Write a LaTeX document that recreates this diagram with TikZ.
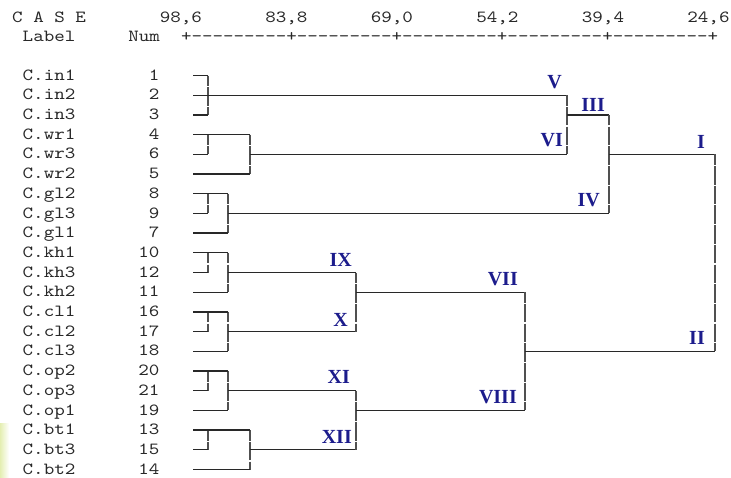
\documentclass[tikz,border=0pt]{standalone}
\usepackage{fontspec}
\newfontfamily\monof[FakeStretch=1.18,Ligatures=TeXOff]{lmmono10-regular.otf}
\newfontfamily\labf{Liberation Serif}
\definecolor{navy}{RGB}{28,28,140}
\definecolor{txt}{RGB}{40,40,40}
\definecolor{hline}{RGB}{40,40,40}
\definecolor{vline}{RGB}{80,80,80}
\definecolor{bar}{RGB}{228,238,178}
\tikzset{
  mono/.style={font=\monof\fontsize{17}{19}\selectfont, text=txt, inner sep=0pt},
  clab/.style={font=\labf\bfseries\fontsize{20}{22}\selectfont, text=navy, inner sep=0pt, anchor=east},
  hl/.style={draw=hline, line width=1.35pt},
  vl/.style={draw=vline, line width=1.35pt, dash pattern=on 18.5pt off 1.2pt, dash phase=8pt},
}
\begin{document}
\begin{tikzpicture}[x=1pt,y=-1pt]
\useasboundingbox (0,0) rectangle (731,477);
\shade[left color=bar, right color=white] (0,423) rectangle (9,477);
% header
\node[mono, anchor=base west] (hcase) at (12,22) {C A S E};
\node[mono, anchor=base west] (t1) at (159.7,22) {98,6};
\node[mono, anchor=base west] (t2) at (265.2,22) {83,8};
\node[mono, anchor=base west] (t3) at (370.7,22) {69,0};
\node[mono, anchor=base west] (t4) at (476.2,22) {54,2};
\node[mono, anchor=base west] (t5) at (581.7,22) {39,4};
\node[mono, anchor=base west] (t6) at (687.2,22) {24,6};
\node[mono, anchor=base west] (hlabel) at (22.55,41) {Label};
\node[mono, anchor=base west] (hnum) at (128.05,41) {Num};
\node[mono, anchor=base west] (axis) at (180.8,41) {+---------+---------+---------+---------+---------+};
% rows
\foreach \lab/\num [count=\i] in {C.in1/1,C.in2/2,C.in3/3,C.wr1/4,C.wr3/6,C.wr2/5,C.gl2/8,C.gl3/9,C.gl1/7,C.kh1/10,C.kh3/12,C.kh2/11,C.cl1/16,C.cl2/17,C.cl3/18,C.op2/20,C.op3/21,C.op1/19,C.bt1/13,C.bt3/15,C.bt2/14}{
  \coordinate (r\i) at (0,{75.5+19.7*(\i-1)});
  \node[mono, anchor=base west] (lab\i) at (22.5,{75.5+19.7*(\i-1)+4.6}) {\lab};
  \node[mono, anchor=base east] (num\i) at (159.7,{75.5+19.7*(\i-1)+4.6}) {\num};
}
% x levels
\coordinate (xL) at (193,0);
\coordinate (xA) at (208,0);
\coordinate (xB) at (228,0);
\coordinate (xC) at (250,0);
\coordinate (xD) at (356,0);
\coordinate (xE) at (525,0);
\coordinate (xF) at (567,0);
\coordinate (xG) at (609,0);
\coordinate (xH) at (715,0);
% in
\draw[vl] (xA|-r1) -- (xA|-r3);
\draw[hl] (xL|-r1) -- (xA|-r1);
\draw[hl] (xL|-r3) -- (xA|-r3);
\draw[hl] (xL|-r2) -- (xF|-r2);
% wr
\draw[vl] (xA|-r4) -- (xA|-r5);
\draw[vl] (xC|-r4) -- (xC|-r6);
\draw[hl] (xL|-r4) -- (xC|-r4);
\draw[hl] (xL|-r5) -- (xA|-r5);
\draw[hl] (xL|-r6) -- (xC|-r6);
\draw[hl] (xC|-r5) -- (xF|-r5);
% gl
\draw[vl] (xA|-r7) -- (xA|-r8);
\draw[vl] (xB|-r7) -- (xB|-r9);
\draw[hl] (xL|-r7) -- (xB|-r7);
\draw[hl] (xL|-r8) -- (xA|-r8);
\draw[hl] (xL|-r9) -- (xB|-r9);
\draw[hl] (xB|-r8) -- (xG|-r8);
% kh
\draw[vl] (xA|-r10) -- (xA|-r11);
\draw[vl] (xB|-r10) -- (xB|-r12);
\draw[hl] (xL|-r10) -- (xB|-r10);
\draw[hl] (xL|-r11) -- (xA|-r11);
\draw[hl] (xL|-r12) -- (xB|-r12);
\draw[hl] (xB|-r11) -- (xD|-r11);
% cl
\draw[vl] (xA|-r13) -- (xA|-r14);
\draw[vl] (xB|-r13) -- (xB|-r15);
\draw[hl] (xL|-r13) -- (xB|-r13);
\draw[hl] (xL|-r14) -- (xA|-r14);
\draw[hl] (xL|-r15) -- (xB|-r15);
\draw[hl] (xB|-r14) -- (xD|-r14);
% op
\draw[vl] (xA|-r16) -- (xA|-r17);
\draw[vl] (xB|-r16) -- (xB|-r18);
\draw[hl] (xL|-r16) -- (xB|-r16);
\draw[hl] (xL|-r17) -- (xA|-r17);
\draw[hl] (xL|-r18) -- (xB|-r18);
\draw[hl] (xB|-r17) -- (xD|-r17);
% bt
\draw[vl] (xA|-r19) -- (xA|-r20);
\draw[vl] (xC|-r19) -- (xC|-r21);
\draw[hl] (xL|-r19) -- (xC|-r19);
\draw[hl] (xL|-r20) -- (xA|-r20);
\draw[hl] (xL|-r21) -- (xC|-r21);
\draw[hl] (xC|-r20) -- (xD|-r20);
% upper joins
\draw[vl] (xD|-r11) -- (xD|-r14);
\draw[hl] (xD|-r12) -- (xE|-r12);
\draw[vl] (xD|-r17) -- (xD|-r20);
\draw[hl] (xD|-r18) -- (xE|-r18);
\draw[vl] (xE|-r12) -- (xE|-r18);
\draw[hl] (xE|-r15) -- (xH|-r15);
\draw[vl] (xF|-r2) -- (xF|-r5);
\draw[hl] (xF|-r3) -- (xG|-r3);
\draw[vl] (xG|-r3) -- (xG|-r8);
\draw[hl] (xG|-r5) -- (xH|-r5);
\draw[vl] (xH|-r5) -- (xH|-r15);
% cluster labels
\node[clab] (cV) at (562,82.5) {V};
\node[clab] (cVI) at (563,140) {VI};
\node[clab] (cIII) at (605,105) {III};
\node[clab] (cIV) at (600,200) {IV};
\node[clab] (cI) at (705,141.5) {I};
\node[clab] (cII) at (705,337.5) {II};
\node[clab] (cVII) at (518,279.5) {VII};
\node[clab] (cVIII) at (517,397.5) {VIII};
\node[clab] (cIX) at (352,259.5) {IX};
\node[clab] (cX) at (348,319.5) {X};
\node[clab] (cXI) at (350,376.5) {XI};
\node[clab] (cXII) at (352,436.5) {XII};
\end{tikzpicture}
\end{document}
